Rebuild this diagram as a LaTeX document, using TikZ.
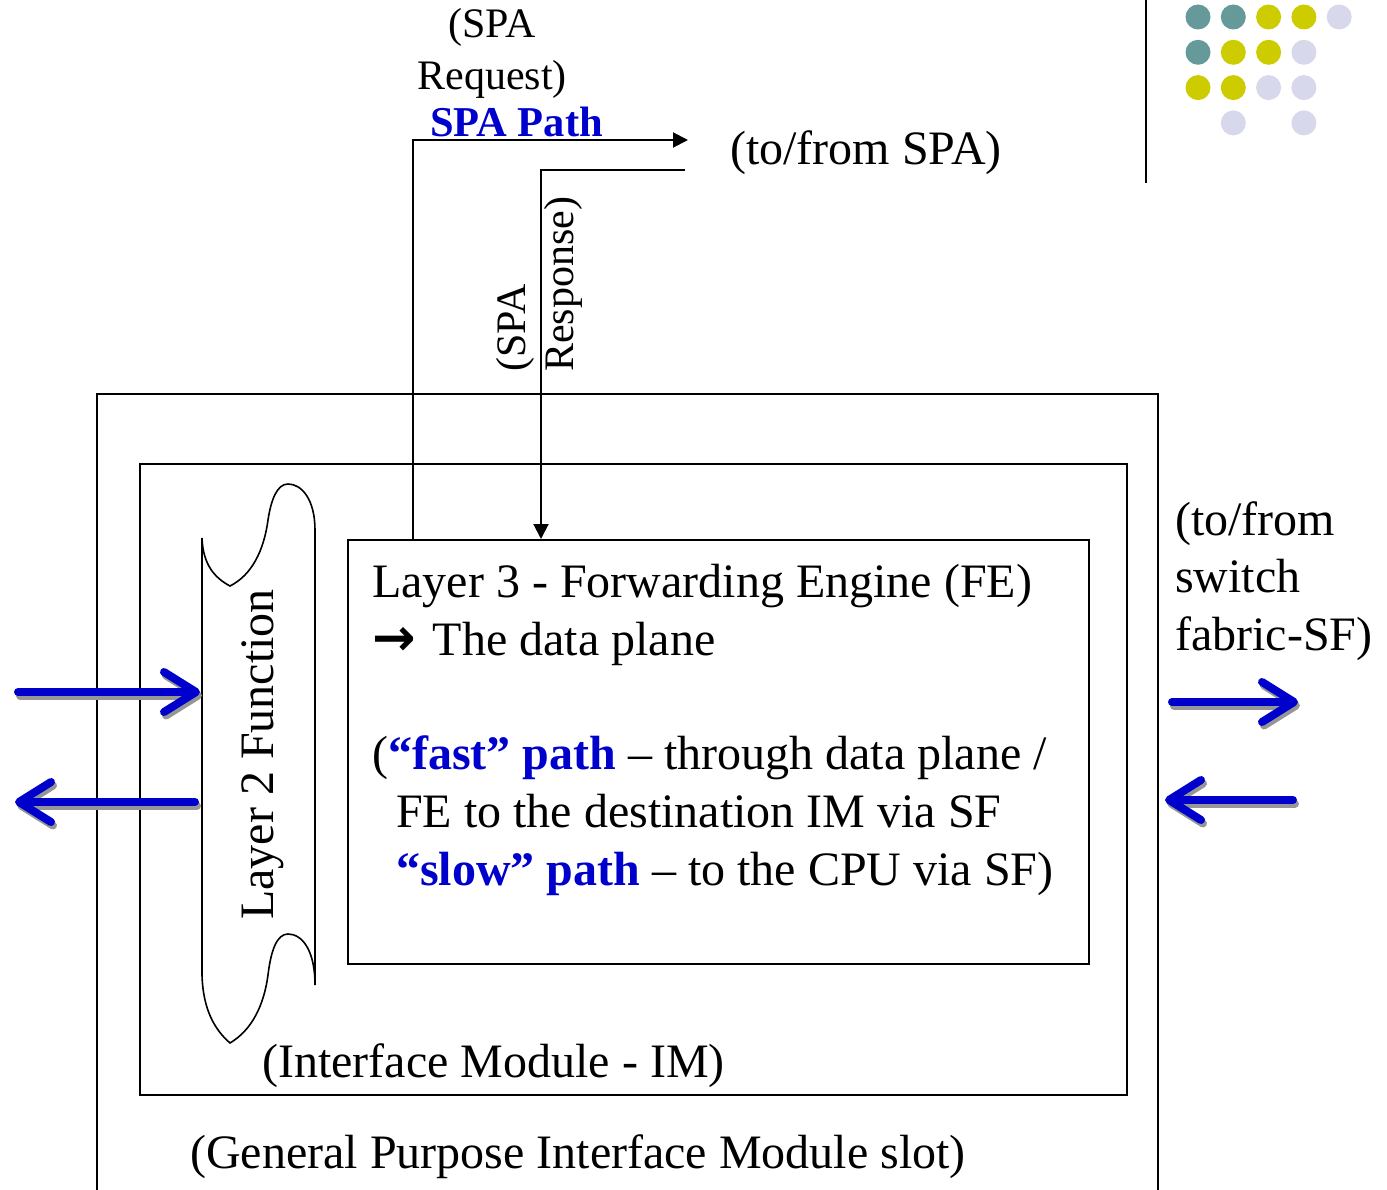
\documentclass[tikz,border=0pt]{standalone}
\usepackage{fontspec}
\setmainfont{Liberation Serif}
\newfontfamily\symfont{DejaVu Sans}
\usetikzlibrary{arrows.meta,calc}
\definecolor{pathblue}{RGB}{0,0,204}
\definecolor{dotteal}{RGB}{102,153,153}
\definecolor{dotyellow}{RGB}{204,204,0}
\definecolor{dotlilac}{RGB}{216,216,236}
\definecolor{shadowgray}{RGB}{150,150,150}
\tikzset{
  frame/.style={draw, line width=2pt, inner sep=0pt, anchor=north west},
  wire/.style={line width=2pt},
  wiretip/.style={-{Triangle[length=15pt,width=15pt]}},
  bigtext/.style={inner sep=0pt, font=\fontsize{48}{58}\selectfont},
  smalltext/.style={inner sep=0pt, font=\fontsize{42}{50}\selectfont},
  flowbase/.style={line width=8pt, line cap=round, line join=round,
    -{Straight Barb[length=32pt,width=40pt,round]}},
  flow/.style={flowbase, color=pathblue},
  flowshade/.style={flowbase, color=shadowgray},
  dot/.style={circle, inner sep=0pt, minimum size=25pt},
}
\begin{document}
\begin{tikzpicture}[x=1pt,y=-1pt]
\useasboundingbox (0,0) rectangle (1387,1190);

% corner decoration: grid of dots and the vertical rule
\draw[line width=2pt] (1146,0) -- (1146,183);
\foreach \col/\row/\c in {1/1/dotteal,2/1/dotteal,3/1/dotyellow,4/1/dotyellow,5/1/dotlilac,
                          1/2/dotteal,2/2/dotyellow,3/2/dotyellow,4/2/dotlilac,
                          1/3/dotyellow,2/3/dotyellow,3/3/dotlilac,4/3/dotlilac,
                          2/4/dotlilac,4/4/dotlilac}
  \node[dot, fill=\c] (dot\col\row) at ({1198+35.3*(\col-1)}, {17+35.3*(\row-1)}) {};

% nested boxes: slot, interface module, forwarding engine
\node[frame, minimum width=1061pt, minimum height=820pt] (slot) at (96,393) {};
\node[frame, minimum width=987pt, minimum height=631pt] (im) at (139,463) {};
\node[frame, minimum width=741pt, minimum height=424pt] (fe) at (347,539) {};

% layer 2 scroll
\draw[line width=1.6pt, fill=white]
  (202,538) -- (202,975)
  .. controls (203,1010) and (215,1030) .. (230,1043)
  .. controls (252,1030) and (264,1005) .. (268,975)
  .. controls (271,950) and (277,934) .. (288,934)
  .. controls (302,934) and (315,950) .. (315,985)
  -- (315,530)
  .. controls (315,500) and (302,484) .. (288,484)
  .. controls (277,484) and (271,500) .. (268,520)
  .. controls (264,550) and (252,575) .. (230,586)
  .. controls (215,578) and (203,565) .. (202,538) -- cycle;
\node[bigtext, rotate=90, anchor=base west] (l2) at (273,920) {Layer 2 Function};

% forwarding engine text
\node[bigtext, anchor=base west] (fe1) at (372,597) {Layer 3 - Forwarding Engine (FE)};
\node[bigtext, anchor=base west] (fe2) at (372,655)
  {{\symfont\bfseries\fontsize{52}{60}\selectfont →}\hspace{17pt}The data plane};
\node[bigtext, anchor=base west] (fe3) at (372,769)
  {(\textcolor{pathblue}{\textbf{“fast” path}} – through data plane /};
\node[bigtext, anchor=base west] (fe4) at (396,827) {FE to the destination IM via SF};
\node[bigtext, anchor=base west] (fe5) at (396,885)
  {\textcolor{pathblue}{\textbf{“slow” path}} – to the CPU via SF)};

% box captions
\node[bigtext, anchor=base west] (imlabel) at (262,1077) {(Interface Module - IM)};
\node[bigtext, anchor=base west] (slotlabel) at (190,1168) {(General Purpose Interface Module slot)};

% SPA request / response paths
\coordinate (spaout) at (688,140);
\coordinate (reqcorner) at (413,140);
\coordinate (spain) at (685,170);
\coordinate (respcorner) at (541,170);
\draw[wire, wiretip] (reqcorner |- fe.north) -- (reqcorner) -- (spaout);
\draw[wire, wiretip] (spain) -- (respcorner) -- (respcorner |- fe.north);

\node[smalltext, anchor=base] (req1) at (492,38) {(SPA};
\node[smalltext, anchor=base] (req2) at (492,90) {Request)};
\node[smalltext, anchor=base west, text=pathblue, font=\fontsize{42.5}{50}\selectfont\bfseries] (spapath) at (430,137) {SPA Path};
\node[bigtext, anchor=base west] (tospa) at (730,165) {(to/from SPA)};
\node[smalltext, rotate=90, anchor=base west] (resp1) at (525,372) {(SPA};
\node[smalltext, rotate=90, anchor=base west] (resp2) at (573,372) {Response)};

% switch fabric label
\node[bigtext, anchor=base west] (sf1) at (1175,535) {(to/from};
\node[bigtext, anchor=base west] (sf2) at (1175,592) {switch};
\node[bigtext, anchor=base west] (sf3) at (1175,650) {fabric-SF)};

% traffic arrows, each with a drop shadow underneath
\coordinate (lin0) at (18,692);   \coordinate (lin1) at (200,692);
\coordinate (lout0) at (195,802); \coordinate (lout1) at (15,802);
\coordinate (rout0) at (1172,702); \coordinate (rout1) at (1298,702);
\coordinate (rin0) at (1293,800);  \coordinate (rin1) at (1165,800);
\foreach \a/\b in {lin0/lin1, lout0/lout1, rout0/rout1, rin0/rin1} {
  \draw[flowshade] ($(\a)+(2,3.5)$) -- ($(\b)+(2,3.5)$);
  \draw[flow] (\a) -- (\b);
}
\end{tikzpicture}
\end{document}
